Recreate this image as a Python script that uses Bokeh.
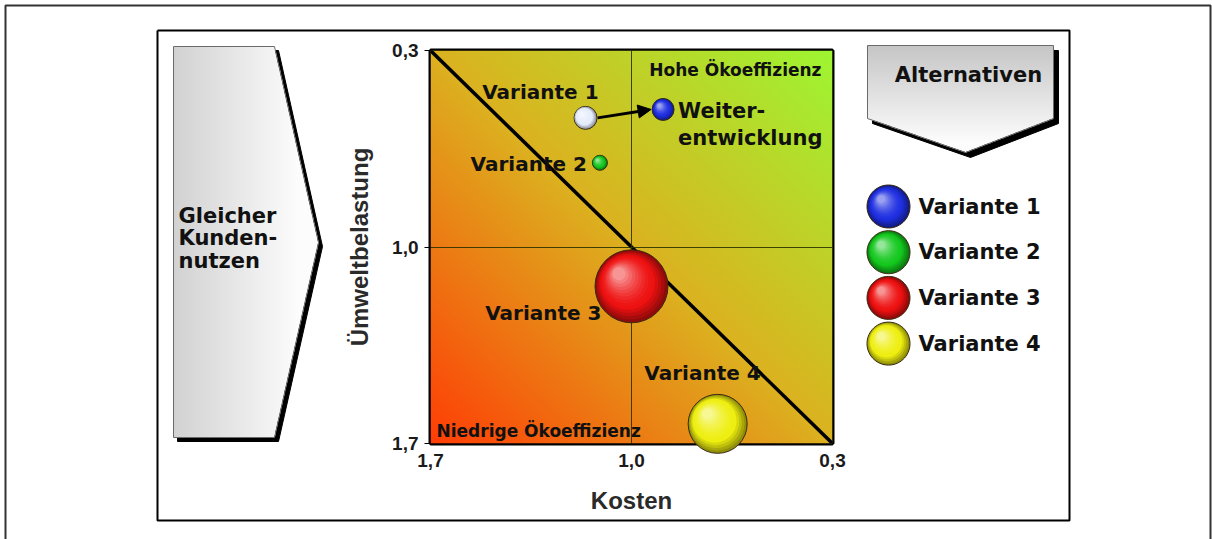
import numpy as np
from bokeh.plotting import figure
from bokeh.models import Range1d, FixedTicker, CustomJSTickFormatter, Arrow, NormalHead
from bokeh.core.properties import value
from bokeh.embed import file_html
from bokeh.resources import INLINE

# ---------------- data ----------------
tick_values = [1.7, 1.0, 0.3]
variant_names = ["Variante 1", "Variante 2", "Variante 3", "Variante 4"]
variant_kosten = [1.16, 1.11, 1.00, 0.70]
variant_umwelt = [0.54, 0.70, 1.14, 1.63]
variant_bubble = [23, 15, 73, 59]
plot_colors = ["#e4ecfb", "#14c81e", "#ee1111", "#eeee10"]
legend_colors = ["#1f2fe0", "#14c81e", "#ee1111", "#eeee10"]
dev_name = "Weiter-\nentwicklung"
dev_kosten = [0.89]
dev_umwelt = [0.51]
dev_bubble = [22]
dev_colors = ["#1f2fe0"]
x_title = "Kosten"
y_title = "Ümweltbelastung"
zone_high = "Hohe Ökoeffizienz"
zone_low = "Niedrige Ökoeffizienz"
left_lines = ["Gleicher", "Kunden-", "nutzen"]
legend_title = "Alternativen"

# ---------------- layout (page pixels) ----------------
W, H = 1212, 539
FL, FR, FT, FB = 430, 832, 50, 443
KX = (tick_values[0] - tick_values[-1]) / (FR - FL)
KY = (tick_values[0] - tick_values[-1]) / (FB - FT)
FONT = value("DejaVu Sans")

p = figure(width=W, height=H,
           x_range=Range1d(tick_values[0], tick_values[-1]),
           y_range=Range1d(tick_values[0], tick_values[-1]),
           min_border_left=FL, min_border_right=W - FR,
           min_border_top=FT, min_border_bottom=H - FB,
           output_backend="svg", toolbar_location=None, tools="",
           background_fill_color="white", border_fill_color="white")
p.extra_x_ranges = {"px": Range1d(FL, FR), "ux": Range1d(0, 1)}
p.extra_y_ranges = {"py": Range1d(-FB, -FT), "uy": Range1d(0, 1)}

fmt = CustomJSTickFormatter(code="return tick.toFixed(1).replace('.', ',');")
for ax in (p.xaxis[0], p.yaxis[0]):
    ax.ticker = FixedTicker(ticks=tick_values)
    ax.formatter = fmt
    ax.axis_line_color = None
    ax.major_tick_line_color = "black"
    ax.major_tick_in = 0
    ax.minor_tick_line_color = None
    ax.major_label_text_font = "Liberation Sans"
    ax.major_label_text_font_style = "bold"
    ax.major_label_text_font_size = "19px"
    ax.major_label_text_color = "#1a1a1a"
    ax.axis_label_text_font = "Liberation Sans"
    ax.axis_label_text_font_style = "bold"
    ax.axis_label_text_font_size = "24px"
    ax.axis_label_text_color = "#2a2a2a"
p.xaxis.axis_label = x_title
p.yaxis.axis_label = y_title
p.yaxis.major_tick_out = 6
p.yaxis.major_label_standoff = 6
p.yaxis.axis_label_standoff = 16
p.xaxis.major_tick_out = 0
p.xaxis.major_label_standoff = 10
p.xaxis.axis_label_standoff = 17

for g in (p.xgrid[0], p.ygrid[0]):
    g.ticker = FixedTicker(ticks=tick_values)
    g.grid_line_color = "#2e3300"
    g.grid_line_width = 1
    g.grid_line_alpha = 0.9
    g.level = "glyph"
p.outline_line_color = "black"
p.outline_line_width = 4


def to_img(R, G, B, A):
    img = np.zeros(R.shape, dtype=np.uint32)
    v = img.view(np.uint8).reshape(R.shape + (4,))
    v[..., 0] = R; v[..., 1] = G; v[..., 2] = B; v[..., 3] = A
    return img


# background gradient of the plot area
n = 240
u = (np.arange(n) + 0.5) / n
U, V = np.meshgrid(u, u)
t = (U + V) / 2
st = [0.0, 0.5, 1.0]
bg = to_img(np.interp(t, st, [255, 220, 158]), np.interp(t, st, [62, 178, 246]),
            np.interp(t, st, [6, 32, 50]), np.full(t.shape, 255))
p.image_rgba(image=[bg], x=0, y=0, dw=1, dh=1, x_range_name="ux", y_range_name="uy")

# iso-efficiency diagonal
p.line(x=[tick_values[0], tick_values[-1]], y=[tick_values[-1], tick_values[0]],
       line_color="black", line_width=3.5)


def hex2rgb(c):
    return np.array([int(c[1:3], 16), int(c[3:5], 16), int(c[5:7], 16)], float)


def mix(c, target, f):
    a = hex2rgb(c) if isinstance(c, str) else np.asarray(c, float)
    b = np.asarray(target, float)
    r = a + (b - a) * f
    return "#%02x%02x%02x" % tuple(int(round(x)) for x in r)


L = 14


def layer_params(colors):
    dark = [mix(c, (0, 0, 0), 0.4) for c in colors]
    out = []
    for k in range(L):
        f = k / (L - 1)
        if f < 0.3:
            cols = [mix(d, hex2rgb(c), f / 0.3) for d, c in zip(dark, colors)]
        else:
            cols = [mix(c, (255, 255, 255), 0.55 * ((f - 0.3) / 0.7) ** 1.6) for c in colors]
        out.append((f, 1 - 0.82 * f, 0.17 * f, cols))
    return out


def spheres(xs, ys, sizes, colors, left, up):
    xs = np.asarray(xs, float); ys = np.asarray(ys, float); sizes = np.asarray(sizes, float)
    for f, sc, of, cols in layer_params(colors):
        off = sizes * of
        kw = dict(line_color="#3a2a10", line_width=1) if f == 0 else dict(line_color=None)
        p.scatter(xs + left * off, ys + up * off, size=sizes * sc, fill_color=cols, level="overlay", **kw)


PX = dict(x_range_name="px", y_range_name="py", level="overlay")


def sphere_polys(cx, cy, diam, colors):
    ang = np.linspace(0, 2 * np.pi, 60, endpoint=False)
    for f, sc, of, cols in layer_params(colors):
        for x, y, d, col in zip(cx, cy, diam, cols):
            r = d * sc / 2
            ox, oy = x - d * of, y - d * of
            kw = dict(line_color="#3a2a10", line_width=1) if f == 0 else dict(line_color=None)
            p.patch(list(ox + r * np.cos(ang)), list(-(oy + r * np.sin(ang))), fill_color=col, **kw, **PX)


# plot bubbles
spheres(variant_kosten, variant_umwelt, variant_bubble, plot_colors, KX, -KY)
spheres(dev_kosten, dev_umwelt, dev_bubble, dev_colors, KX, -KY)

p.add_layout(Arrow(end=NormalHead(size=13, fill_color="black", line_color="black"),
                   x_start=variant_kosten[0] - 12 * KX, y_start=variant_umwelt[0],
                   x_end=dev_kosten[0] + 12 * KX, y_end=dev_umwelt[0],
                   line_width=3, line_color="black"))

txt = dict(text_font=FONT, text_font_style="bold", text_color="#111111", level="overlay")
label_dx = [13, -13, -30, 43]
label_dy = [-26, 1, 27, -51]
p.text(x=variant_kosten, y=variant_umwelt, text=variant_names, x_offset=label_dx, y_offset=label_dy,
       text_align="right", text_baseline="middle", text_font_size="20px", **txt)
p.text(x=dev_kosten, y=dev_umwelt, text=[dev_name], x_offset=15, y_offset=-10,
       text_align="left", text_baseline="top", text_line_height=1.12, text_font_size="21px", **txt)
p.text(x=[tick_values[-1]], y=[tick_values[-1]], text=[zone_high], x_offset=-11, y_offset=19,
       text_align="right", text_baseline="middle", text_font_size="17px", **txt)
p.text(x=[tick_values[0]], y=[tick_values[0]], text=[zone_low], x_offset=6, y_offset=-13,
       text_align="left", text_baseline="middle", text_font_size="17px", **txt)

# ---------------- decorations outside the frame ----------------


def poly_image(pts, shade_fn):
    pts = np.asarray(pts, float)
    x0, y0 = np.floor(pts.min(0)); x1, y1 = np.ceil(pts.max(0))
    w, h = int(x1 - x0), int(y1 - y0)
    X, Y = np.meshgrid(x0 + np.arange(w) + 0.5, y1 - np.arange(h) - 0.5)
    inside = np.ones(X.shape, bool)
    for i in range(len(pts)):
        ax_, ay_ = pts[i]; bx_, by_ = pts[(i + 1) % len(pts)]
        inside &= ((bx_ - ax_) * (Y - ay_) - (by_ - ay_) * (X - ax_)) >= 0
    gray = shade_fn(X, Y)
    img = to_img(gray, gray, gray, np.where(inside, 255, 0))
    p.image_rgba(image=[img], x=x0, y=-y1, dw=w, dh=h, **PX)


def shape(pts, shadow, shade_fn):
    xs = [q[0] for q in pts]; ys = [q[1] for q in pts]
    p.patch([x + shadow for x in xs], [-(y + shadow) for y in ys], fill_color="black",
            line_color="black", **PX)
    poly_image(pts, shade_fn)
    p.patch(xs, [-y for y in ys], fill_color=None, line_color="#6a6a6a", line_width=1, **PX)


left_arrow = [(173, 46), (274, 46), (318, 242), (274, 437), (173, 437)]
shape(left_arrow, 4, lambda X, Y: np.interp(X, [173, 295], [210, 252]))
p.text(x=[178] * 3, y=[-215, -237.5, -260], text=left_lines, text_align="left",
       text_baseline="middle", text_font_size="21px", **txt, x_range_name="px", y_range_name="py")

alt_box = [(867, 45), (1053, 45), (1053, 118), (965, 152), (867, 118)]
shape(alt_box, 5, lambda X, Y: np.interp(Y, [45, 140], [198, 252]))
p.text(x=[968], y=[-74], text=[legend_title], text_align="center", text_baseline="middle",
       text_font_size="21px", **txt, x_range_name="px", y_range_name="py")

# legend
leg_y = [206 + i * 45.7 for i in range(len(variant_names))]
sphere_polys([888] * len(variant_names), leg_y, [43] * len(variant_names), legend_colors)
p.text(x=[918] * len(variant_names), y=[-y for y in leg_y], text=variant_names, text_align="left",
       text_baseline="middle", text_font_size="21px", **txt, x_range_name="px", y_range_name="py")

# frames
p.line([5, 5, 1210, 1210], [-539, -5, -5, -539], line_color="#333333", line_width=2, **PX)
p.line([157, 157, 1069, 1069, 157], [-30, -520, -520, -30, -30], line_color="black", line_width=2, **PX)

open("out.html", "w").write(file_html(p, INLINE))
